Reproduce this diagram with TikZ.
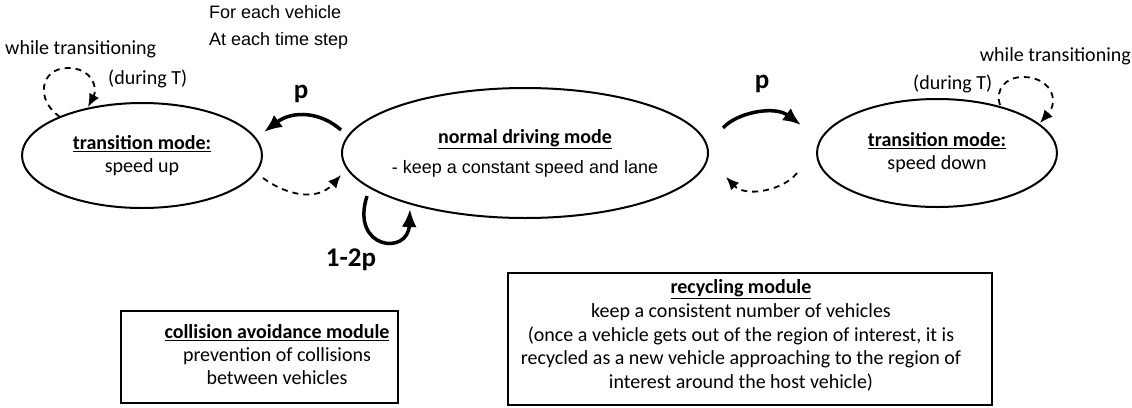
\documentclass[tikz,border=0pt]{standalone}
\usepackage{fontspec}
\setmainfont{Carlito}
\newfontfamily\arialfont{Liberation Sans}
\usetikzlibrary{shapes.geometric,arrows.meta,calc}
\begin{document}
\begin{tikzpicture}[x=1pt,y=-1pt,
  mode/.style={draw, ellipse, line width=2pt, inner sep=0pt, align=center,
    font=\fontsize{20}{23}\selectfont},
  module/.style={draw, rectangle, line width=2pt, inner sep=0pt},
  smalltext/.style={inner sep=0pt, font=\fontsize{20}{23}\selectfont},
  note/.style={inner sep=0pt, font=\arialfont\fontsize{18}{22}\selectfont, anchor=base west},
  prob/.style={inner sep=0pt, font=\bfseries\fontsize{27}{30}\selectfont},
  trans/.style={line width=3.5pt, -{Latex[length=18pt,width=15pt]}},
  back/.style={line width=1.8pt, dash pattern=on 6pt off 5pt, -{Latex[length=13pt,width=11pt]}},
]
\useasboundingbox (0,0) rectangle (1132,407);

% states
\node[mode, minimum width=240pt, minimum height=105pt] (L) at (142,155.5)
  {\textbf{\underline{transition mode:}}\\speed up};
\node[mode, minimum width=366pt, minimum height=130pt, inner xsep=-14pt] (M) at (525,153)
  {\textbf{\underline{normal driving mode}}\\[7pt]{\arialfont\fontsize{18}{22}\selectfont - keep a constant speed and lane}};
\node[mode, minimum width=240pt, minimum height=108pt] (R) at (937,153)
  {\textbf{\underline{transition mode:}}\\speed down};

% header notes
\node[note] (each1) at (209,18.5) {For each vehicle};
\node[note] (each2) at (209,45.5) {At each time step};

% self-loop notes
\node[smalltext, anchor=base west] (whileL) at (5,54.5) {while transitioning};
\node[smalltext, anchor=base west] (duringL) at (108,84) {(during T)};
\node[smalltext, anchor=base east] (whileR) at (1131,61.5) {while transitioning};
\node[smalltext, anchor=base west] (duringR) at (913,89) {(during T)};

% probabilities
\node[prob] (pL) at (301,94) {p};
\node[prob] (pR) at (762,84) {p};
\node[prob] (pM) at (351,260) {1-2p};

% transitions between modes
\draw[trans] ($(M.west)+(0,-23)$) .. controls +(-20,-18) and +(29,-22) .. ($(L.east)+(1,-23.5)$);
\draw[back] ($(L.east)+(0,22.5)$) .. controls +(23,17) and +(-24,27) .. ($(M.west)+(0,22)$);
\draw[trans] ($(M.east)+(14,-25)$) .. controls +(13,-15) and +(-27,-20) .. ($(R.west)+(-15,-28)$);
\draw[back] ($(R.west)+(-19,20)$) .. controls +(-13,17) and +(20,21) .. ($(M.east)+(17,24)$);
\draw[trans] ($(M.south)+(-158,-23)$) .. controls +(-17,53) and +(-2,47) .. ($(M.south)+(-115,-10)$);

% self-loops while transitioning
\draw[back] ($(L.center)+(-82,-38.5)$) .. controls +(-25,-17) and +(-28,0) .. ($(L.center)+(-74,-87.5)$)
  .. controls +(24,0) and +(10,-19) .. ($(L.center)+(-54,-48.5)$);
\draw[back] ($(R.center)+(63,-48)$) .. controls +(-5,-15) and +(-18,0) .. ($(R.center)+(86,-76)$)
  .. controls +(27,0) and +(20,-23) .. ($(R.center)+(103,-30)$);

% modules
\node[module, minimum width=277pt, minimum height=92pt] (CA) at (259.5,357) {};
\node[smalltext, align=center] (CAtext) at ($(CA.center)+(17.5,-2)$)
  {\textbf{\underline{collision avoidance module}}\\prevention of collisions\\between vehicles};
\node[module, minimum width=484pt, minimum height=132pt] (RC) at (750,339) {};
\node[smalltext, align=center, font=\fontsize{20}{23.75}\selectfont] (RCtext) at ($(RC.center)+(-9,-3.5)$)
  {\textbf{\underline{recycling module}}\\keep a consistent number of vehicles\\(once a vehicle gets out of the region of interest, it is\\recycled as a new vehicle approaching to the region of\\interest around the host vehicle)};
\end{tikzpicture}
\end{document}
